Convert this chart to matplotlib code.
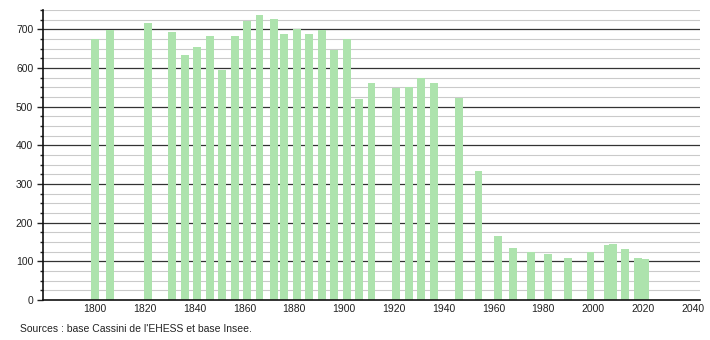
import numpy as np
import matplotlib
matplotlib.use("Agg")
import matplotlib.pyplot as plt
from matplotlib.ticker import MultipleLocator

# census years and population
years = [1800, 1806, 1821, 1831, 1836, 1841, 1846, 1851, 1856, 1861, 1866, 1872,
         1876, 1881, 1886, 1891, 1896, 1901, 1906, 1911, 1921, 1926, 1931, 1936,
         1946, 1954, 1962, 1968, 1975, 1982, 1990, 1999, 2006, 2008, 2013, 2018, 2021]
population = [676, 697, 717, 692, 633, 654, 684, 595, 682, 721, 737, 726,
              689, 700, 687, 697, 646, 675, 520, 562, 549, 551, 573, 562,
              523, 333, 166, 134, 124, 118, 109, 123, 142, 145, 132, 108, 105]
x_ticks = list(range(1800, 2041, 20))
y_ticks = list(range(0, 701, 100))
source_text = "Sources : base Cassini de l'EHESS et base Insee."

plt.rcParams["font.family"] = ["Liberation Sans", "DejaVu Sans"]

fig = plt.figure(figsize=(7.1, 3.4), dpi=100)
ax = fig.add_axes([43 / 710, 40 / 340, 657 / 710, 290 / 340])

# minor (every 25) light grey lines, major (every 100) dark lines
for v in np.arange(25, 751, 25):
    if v % 100 == 0:
        ax.axhline(v, color="#333333", lw=0.9, zorder=1)
    else:
        ax.axhline(v, color="#cacaca", lw=0.8, zorder=1)

ax.bar(years, population, width=3.2, color="#ade3ad", zorder=2)

ax.set_xlim(1779, 2043)
ax.set_ylim(0, 750)
ax.set_xticks(x_ticks)
ax.set_yticks(y_ticks)
ax.yaxis.set_minor_locator(MultipleLocator(25))
ax.tick_params(axis="x", length=0, pad=3, labelsize=7.5, colors="#222222")
ax.tick_params(axis="y", which="major", length=4, width=1, pad=3, labelsize=7.5, colors="#222222")
ax.tick_params(axis="y", which="minor", length=2, width=1, color="#222222")

for side in ["top", "right"]:
    ax.spines[side].set_visible(False)
ax.spines["left"].set_color("#111111")
ax.spines["bottom"].set_color("#111111")
ax.spines["left"].set_linewidth(1.2)
ax.spines["bottom"].set_linewidth(1.2)

fig.text(20 / 710, 1 - 329 / 340, source_text, fontsize=7.5, color="#222222", va="center")

fig.savefig("out.png", dpi=100)
plt.close(fig)
